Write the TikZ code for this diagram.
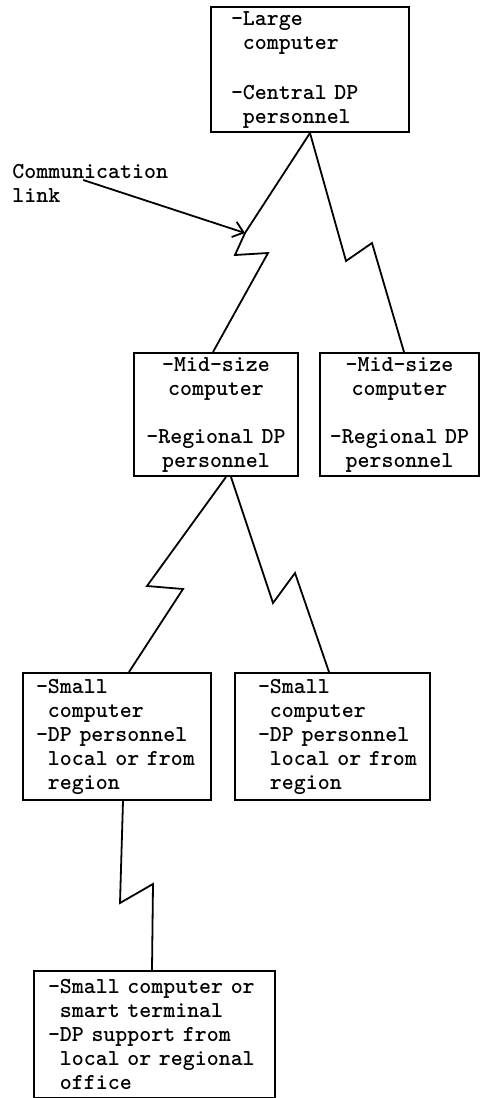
\documentclass[tikz,border=0pt]{standalone}
\usepackage{tikz}
\usetikzlibrary{arrows.meta,calc,positioning}

\newcommand{\sitefont}{\fontsize{11.4}{12}\selectfont\ttfamily\bfseries}
\newcommand{\dpin}{\phantom{-}}

\tikzset{
  site/.style={draw, line width=1pt, anchor=north west, inner xsep=#1, inner ysep=0pt, align=left, font=\sitefont},
  link/.style={line width=0.9pt, line join=miter},
}

\begin{document}
\begin{tikzpicture}[x=0.5pt, y=-0.5pt]
  \useasboundingbox (0,0) rectangle (482,1098);
  %Draw the sites
  \node[site=10pt, text width=79pt, minimum height=62.5pt] (large) at (210,6)
    {-Large\\\dpin computer\\[13pt]-Central~DP\\\dpin personnel};
  \node[site=2pt, align=center, text width=78pt, minimum height=61.5pt] (midL) at (133,352)
    {-Mid-size\\computer\\[12pt]-Regional~DP\\personnel};
  \node[site=2pt, align=center, text width=75.5pt, minimum height=61.5pt] (midR) at (319,352)
    {-Mid-size\\computer\\[12pt]-Regional~DP\\personnel};
  \node[site=6.5pt, text width=81pt, minimum height=63.5pt] (smallL) at (22,672)
    {-Small\\\dpin computer\\-DP~personnel\\\dpin local~or~from\\\dpin region};
  \node[site=11.5pt, text width=74.5pt, minimum height=63.5pt] (smallR) at (234,672)
    {-Small\\\dpin computer\\-DP~personnel\\\dpin local~or~from\\\dpin region};
  \node[site=7pt, text width=106.5pt, minimum height=63.5pt] (office) at (33,970)
    {-Small~computer~or\\\dpin smart~terminal\\-DP~support~from\\\dpin local~or~regional\\\dpin office};
  \node[font=\sitefont, align=left, anchor=west, inner sep=0pt] (comm) at (12,183) {Communication\\link};
  %Corners of the zigzag links
  \coordinate (b1a) at (245,233);
  \coordinate (b1b) at (235,255);
  \coordinate (b1c) at (268,253);
  \coordinate (b2a) at (346,261);
  \coordinate (b2b) at (372,243);
  \coordinate (b3a) at (147,586);
  \coordinate (b3b) at (183,589);
  \coordinate (b4a) at (273,603);
  \coordinate (b4b) at (295,573);
  \coordinate (b5a) at (120,903);
  \coordinate (b5b) at (153,884);
  %Draw the links
  \draw[link] (large.south) -- (b1a) -- (b1b) -- (b1c) -- ([xshift=-1.5pt]midL.north);
  \draw[link] (large.south) -- (b2a) -- (b2b) -- ([xshift=2.25pt]midR.north);
  \draw[link] ([xshift=5pt]midL.south) -- (b3a) -- (b3b) -- ([xshift=6pt]smallL.north);
  \draw[link] ([xshift=7.5pt]midL.south) -- (b4a) -- (b4b) -- ([xshift=-1.75pt]smallR.north);
  \draw[link] ([xshift=3pt]smallL.south) -- (b5a) -- (b5b) -- ([xshift=-1.25pt]office.north);
  \draw[link, -{Straight Barb[length=5pt,width=8pt]}] ([xshift=-3.5pt,yshift=1.5pt]comm.center) -- (b1a);
\end{tikzpicture}
\end{document}
